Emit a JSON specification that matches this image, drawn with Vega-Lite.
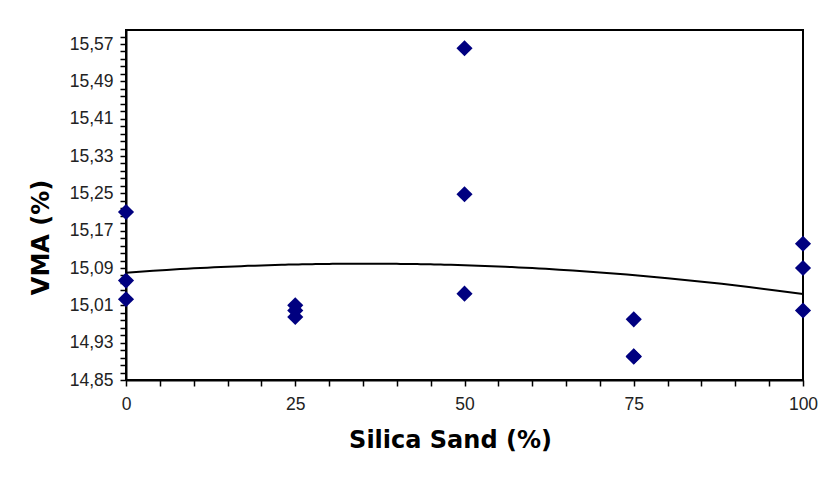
{
  "$schema": "https://vega.github.io/schema/vega-lite/v6.json",
  "width": 677,
  "height": 350,
  "autosize": "none",
  "padding": {"left": 126, "top": 30, "right": 26, "bottom": 97},
  "background": "white",
  "config": {
    "view": {"stroke": "#000", "strokeWidth": 2},
    "axis": {
      "domainColor": "#000",
      "domainWidth": 2,
      "tickColor": "#000",
      "tickWidth": 1.5,
      "tickSize": 6,
      "tickCount": 200,
      "grid": false,
      "labelFont": "Liberation Sans",
      "labelFontSize": 17.5,
      "labelColor": "#222",
      "labelFlush": false,
      "labelOverlap": false,
      "labelBound": false,
      "titleFont": "DejaVu Sans",
      "titleFontWeight": "bold",
      "titleFontSize": 24,
      "titleColor": "#000"
    }
  },
  "data": {
    "values": [
      {"sand": 0, "vma": 15.210},
      {"sand": 0, "vma": 15.063},
      {"sand": 0, "vma": 15.023},
      {"sand": 25, "vma": 15.010},
      {"sand": 25, "vma": 14.999},
      {"sand": 25, "vma": 14.985},
      {"sand": 50, "vma": 15.561},
      {"sand": 50, "vma": 15.248},
      {"sand": 50, "vma": 15.035},
      {"sand": 75, "vma": 14.980},
      {"sand": 75, "vma": 14.901},
      {"sand": 75, "vma": 14.900},
      {"sand": 100, "vma": 15.142},
      {"sand": 100, "vma": 15.090},
      {"sand": 100, "vma": 14.999}
    ]
  },
  "layer": [
    {
      "mark": {"type": "point", "shape": "diamond", "filled": true, "color": "#000080", "size": 260, "opacity": 1},
      "encoding": {
        "x": {
          "field": "sand",
          "type": "quantitative",
          "scale": {"domain": [0, 100], "nice": false, "zero": false},
          "axis": {
            "title": "Silica Sand (%)",
            "values": [0, 5, 10, 15, 20, 25, 30, 35, 40, 45, 50, 55, 60, 65, 70, 75, 80, 85, 90, 95, 100],
            "tickCount": 200,
            "labelExpr": "datum.value % 25 == 0 ? format(datum.value, 'd') : ''",
            "labelPadding": 9,
            "titleX": 324,
            "titleY": 60,
            "titleAlign": "center",
            "titleBaseline": "middle"
          }
        },
        "y": {
          "field": "vma",
          "type": "quantitative",
          "scale": {"domain": [14.85, 15.6], "nice": false, "zero": false},
          "axis": {
            "title": "VMA (%)",
            "values": [14.85, 14.866, 14.882, 14.898, 14.914, 14.93, 14.946, 14.962, 14.978, 14.994, 15.01, 15.026, 15.042, 15.058, 15.074, 15.09, 15.106, 15.122, 15.138, 15.154, 15.17, 15.186, 15.202, 15.218, 15.234, 15.25, 15.266, 15.282, 15.298, 15.314, 15.33, 15.346, 15.362, 15.378, 15.394, 15.41, 15.426, 15.442, 15.458, 15.474, 15.49, 15.506, 15.522, 15.538, 15.554, 15.57, 15.586],
            "tickCount": 200,
            "labelExpr": "abs((datum.value - 14.85) / 0.08 - round((datum.value - 14.85) / 0.08)) < 0.05 ? replace(format(datum.value, '.2f'), '.', ',') : ''",
            "labelPadding": 7,
            "titleAngle": -90,
            "titleX": -85,
            "titleY": 207,
            "titleAlign": "center",
            "titleBaseline": "middle"
          }
        }
      }
    },
    {
      "transform": [
        {"regression": "vma", "on": "sand", "method": "poly", "order": 2, "extent": [0, 100]}
      ],
      "mark": {"type": "line", "color": "#000", "strokeWidth": 2},
      "encoding": {
        "x": {"field": "sand", "type": "quantitative"},
        "y": {"field": "vma", "type": "quantitative"}
      }
    }
  ]
}
